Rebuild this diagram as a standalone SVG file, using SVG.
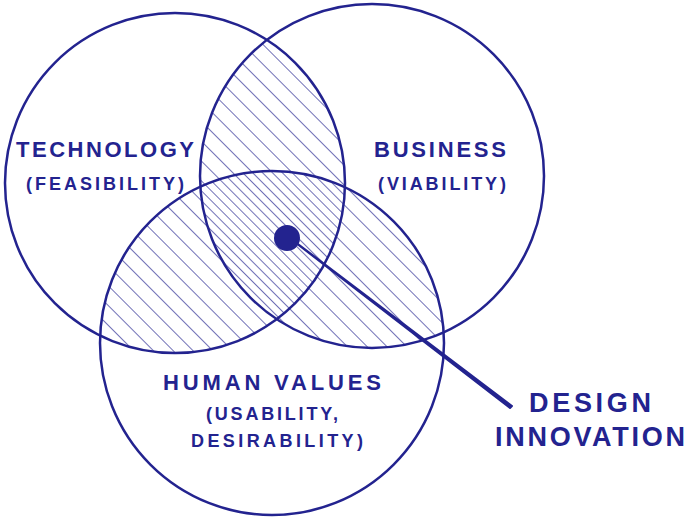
<svg xmlns="http://www.w3.org/2000/svg" width="687" height="522" viewBox="0 0 687 522">
<style>
.c{fill:none;stroke:#23238f;stroke-width:2.5}
.t{font-family:"Liberation Sans",Arial,sans-serif;font-weight:bold;fill:#23238f;text-anchor:middle}
</style>
<defs>
<pattern id="h" width="14" height="14" patternUnits="userSpaceOnUse" patternTransform="rotate(-45)"><line x1="0" y1="0" x2="0" y2="14" stroke="#23238f" stroke-width="1.3"/></pattern>
<pattern id="h2" width="7" height="7" patternUnits="userSpaceOnUse" patternTransform="rotate(-45)"><line x1="0" y1="0" x2="0" y2="7" stroke="#23238f" stroke-width="1.3"/></pattern>
<clipPath id="cA"><circle cx="175" cy="183" r="170"/></clipPath>
<clipPath id="cB"><circle cx="372" cy="176" r="172"/></clipPath>
<clipPath id="cC"><circle cx="272" cy="343" r="172"/></clipPath>
</defs>
<g id="hatching">
<g clip-path="url(#cA)"><rect width="687" height="522" fill="url(#h)" clip-path="url(#cB)"/></g>
<g clip-path="url(#cA)"><rect width="687" height="522" fill="url(#h)" clip-path="url(#cC)"/></g>
<g clip-path="url(#cB)"><rect width="687" height="522" fill="url(#h)" clip-path="url(#cC)"/></g>
<g clip-path="url(#cA)"><g clip-path="url(#cB)"><rect width="687" height="522" fill="#fff" clip-path="url(#cC)"/><rect width="687" height="522" fill="url(#h2)" clip-path="url(#cC)"/></g></g>
</g>
<g id="technology"><circle class="c" cx="175" cy="183" r="170"/>
<text class="t" x="105" y="157" font-size="22" textLength="178">TECHNOLOGY</text><text class="t" x="105" y="190" font-size="18" textLength="158">(FEASIBILITY)</text></g>
<g id="business"><circle class="c" cx="372" cy="176" r="172"/>
<text class="t" x="440" y="157" font-size="22" textLength="132">BUSINESS</text><text class="t" x="442" y="190" font-size="18" textLength="128">(VIABILITY)</text></g>
<g id="human"><circle class="c" cx="272" cy="343" r="172"/>
<text class="t" x="272" y="390" font-size="22" textLength="218">HUMAN VALUES</text><text class="t" x="272" y="420" font-size="18" textLength="132">(USABILITY,</text><text class="t" x="277" y="447" font-size="18" textLength="172">DESIRABILITY)</text></g>
<g id="connectors"><path d="M283,233 L294,241 L512,406 L510,408 Z" fill="#23238f" stroke="#23238f" stroke-width="2" stroke-linejoin="round"/><circle cx="287" cy="238" r="13" fill="#23238f"/></g>
<g id="design"><text class="t" x="590" y="412" font-size="27" textLength="122">DESIGN</text><text class="t" x="590" y="446" font-size="27" textLength="190">INNOVATION</text></g>
</svg>
